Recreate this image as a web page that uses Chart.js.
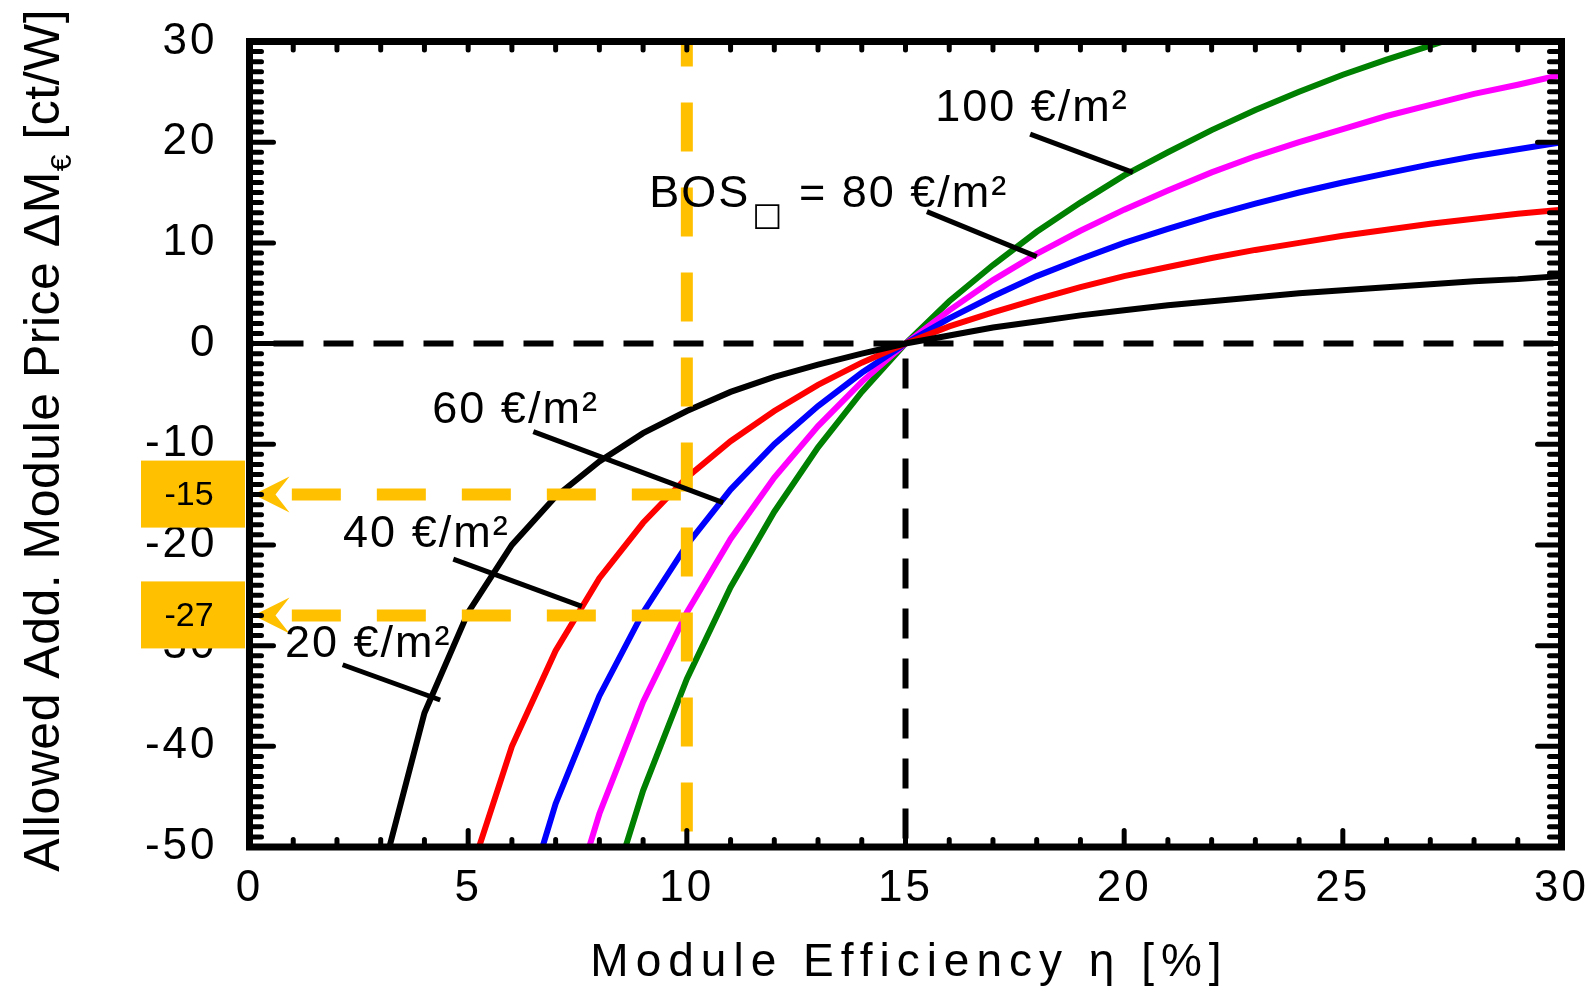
<!DOCTYPE html>
<html>
<head>
<meta charset="utf-8">
<title>Allowed module price vs efficiency</title>
<script src="https://cdn.jsdelivr.net/npm/chart.js@4.4.1/dist/chart.umd.min.js"></script>
<style>
  html, body { margin: 0; padding: 0; background: #fff; }
  #wrap { width: 1592px; height: 992px; position: relative; }
</style>
</head>
<body>
<div id="wrap"><canvas id="eff"></canvas></div>
<script>
// module efficiency [%]
let etaArr = [3,4,5,6,7,8,9,10,11,12,13,14,15,16,17,18,19,20,21,22,23,24,25,26,27,28,29,30];

// allowed additional module price [ct/W] for each BOS cost level
let bos20 = [-53.3,-36.7,-26.7,-20.0,-15.2,-11.7,-8.9,-6.7,-4.8,-3.3,-2.1,-1.0,0,0.8,1.6,2.2,2.8,3.3,3.8,4.2,4.6,5.0,5.3,5.6,5.9,6.2,6.4,6.7];
let bos40 = [null,null,-53.3,-40.0,-30.5,-23.3,-17.8,-13.3,-9.7,-6.7,-4.1,-1.9,0,1.7,3.1,4.4,5.6,6.7,7.6,8.5,9.3,10.0,10.7,11.3,11.9,12.4,12.9,13.3];
let bos60 = [null,null,null,-60.0,-45.7,-35.0,-26.7,-20.0,-14.5,-10.0,-6.2,-2.9,0,2.5,4.7,6.7,8.4,10.0,11.4,12.7,13.9,15.0,16.0,16.9,17.8,18.6,19.3,20.0];
let bos80 = [null,null,null,null,-60.9,-46.7,-35.6,-26.7,-19.4,-13.3,-8.2,-3.8,0,3.3,6.3,8.9,11.2,13.3,15.2,17.0,18.6,20.0,21.3,22.6,23.7,24.8,25.7,26.7];
let bos100 = [null,null,null,null,null,-58.3,-44.4,-33.3,-24.2,-16.7,-10.3,-4.8,0,4.2,7.8,11.1,14.0,16.7,19.0,21.2,23.2,25.0,26.7,28.2,29.6,31.0,null,null];

let seriesNames = ['20 €/m²','40 €/m²','60 €/m²','BOS□ = 80 €/m²','100 €/m²'];
let seriesColors = ['#000000','#ff0000','#0000ff','#ff00ff','#008000'];

let xTicks = [0,5,10,15,20,25,30];
let yTicks = [-50,-40,-30,-20,-10,0,10,20,30];

// reference efficiency and the two read-off prices at 10 %
let etaRef = 15;
let etaRead = 10;
let priceRead = [-15, -27];

const FONT = '"Liberation Sans", Arial, Helvetica, sans-serif';
const ORANGE = '#ffc000';

// where each BOS label sits and where its pointer line runs (axis units)
const notes = [
  { at: [0.81, -31.1], from: [2.13, -31.9], to: [4.36, -35.4] },
  { at: [2.14, -20.2], from: [4.66, -21.4], to: [7.60, -26.1] },
  { at: [4.18, -7.9],  from: [6.49, -8.75], to: [10.83, -15.8] },
  { at: [9.14, 13.6],  from: [15.49, 13.1], to: [18.0, 8.63] },
  { at: [15.68, 22.1], from: [17.85, 20.8], to: [20.2, 17.0] }
];

function pts(vals) {
  return etaArr.map((e, i) => ({ x: e, y: vals[i] }));
}

function spaced(ctx, s, x, y, font, sp, align, base) {
  ctx.font = font;
  ctx.letterSpacing = sp + 'px';
  ctx.textAlign = align || 'left';
  ctx.textBaseline = base || 'alphabetic';
  ctx.fillText(s, x, y);
}

// fixed axis boxes so the plot frame lands at the same place every time
function noPad(s) {
  s.paddingLeft = 0; s.paddingRight = 0; s.paddingTop = 0; s.paddingBottom = 0;
}

const extras = {
  id: 'extras',
  beforeDraw(chart) {
    chart.ctx.letterSpacing = '3px';
  },
  beforeDatasetsDraw(chart) {
    const { ctx, scales: { x, y } } = chart;
    ctx.save();
    ctx.strokeStyle = '#000';
    ctx.lineWidth = 6;
    ctx.setLineDash([30, 20]);
    // zero line
    ctx.lineDashOffset = 26;
    ctx.beginPath();
    ctx.moveTo(x.getPixelForValue(0), y.getPixelForValue(0));
    ctx.lineTo(x.getPixelForValue(30), y.getPixelForValue(0));
    ctx.stroke();
    // reference efficiency
    ctx.lineDashOffset = 35;
    ctx.beginPath();
    ctx.moveTo(x.getPixelForValue(etaRef), y.getPixelForValue(0));
    ctx.lineTo(x.getPixelForValue(etaRef), y.getPixelForValue(-50));
    ctx.stroke();
    ctx.restore();
  },
  afterDatasetsDraw(chart) {
    const { ctx, scales: { x, y }, chartArea: a } = chart;
    ctx.save();

    // read-off lines at 10 %
    const xr = x.getPixelForValue(etaRead);
    ctx.strokeStyle = ORANGE;
    ctx.lineWidth = 12;
    ctx.setLineDash([49, 36]);
    ctx.lineDashOffset = 24;
    ctx.beginPath();
    ctx.moveTo(xr, a.top);
    ctx.lineTo(xr, a.bottom);
    ctx.stroke();
    ctx.lineDashOffset = 0;
    priceRead.forEach(p => {
      const yp = y.getPixelForValue(p);
      ctx.beginPath();
      ctx.moveTo(xr - 6, yp);
      ctx.lineTo(a.left + 30, yp);
      ctx.stroke();
      ctx.fillStyle = ORANGE;
      ctx.beginPath();
      ctx.moveTo(a.left + 4, yp);
      ctx.lineTo(a.left + 40, yp - 18);
      ctx.lineTo(a.left + 26, yp);
      ctx.lineTo(a.left + 40, yp + 18);
      ctx.closePath();
      ctx.fill();
    });
    ctx.setLineDash([]);

    // BOS labels with pointer lines
    ctx.strokeStyle = '#000';
    ctx.fillStyle = '#000';
    ctx.lineWidth = 5;
    notes.forEach((n, i) => {
      ctx.beginPath();
      ctx.moveTo(x.getPixelForValue(n.from[0]), y.getPixelForValue(n.from[1]));
      ctx.lineTo(x.getPixelForValue(n.to[0]), y.getPixelForValue(n.to[1]));
      ctx.stroke();
      const tx = x.getPixelForValue(n.at[0]);
      const ty = y.getPixelForValue(n.at[1]);
      const parts = seriesNames[i].split('□');
      const f = '45px ' + FONT;
      spaced(ctx, parts[0], tx, ty, f, 2);
      if (parts.length > 1) {
        let w = ctx.measureText(parts[0]).width;
        spaced(ctx, '□', tx + w + 2, ty + 18, '32px "DejaVu Sans"', 0);
        let w2 = ctx.measureText('□').width;
        spaced(ctx, parts[1], tx + w + w2 + 4, ty, f, 2);
      }
    });

    // frame with inward ticks
    ctx.lineWidth = 5;
    ctx.lineCap = 'round';
    ctx.beginPath();
    for (let v = -49; v < 30; v++) {
      const yp = y.getPixelForValue(v);
      const len = v % 10 === 0 ? 24 : 12;
      ctx.moveTo(a.left, yp); ctx.lineTo(a.left + len, yp);
      ctx.moveTo(a.right, yp); ctx.lineTo(a.right - len, yp);
    }
    for (let v = 1; v < 30; v++) {
      const xp = x.getPixelForValue(v);
      const len = v % 5 === 0 ? 16.5 : 7.5;
      ctx.moveTo(xp, a.bottom); ctx.lineTo(xp, a.bottom - len);
      ctx.moveTo(xp, a.top); ctx.lineTo(xp, a.top + 8.5);
    }
    ctx.stroke();
    ctx.lineCap = 'butt';
    ctx.lineWidth = 7;
    ctx.strokeRect(a.left, a.top, a.right - a.left, a.bottom - a.top);

    // value boxes on the price axis
    priceRead.forEach(p => {
      const yp = y.getPixelForValue(p);
      ctx.fillStyle = ORANGE;
      ctx.fillRect(141, yp - 34, 104, 67);
      ctx.fillStyle = '#000';
      spaced(ctx, String(p), 189, yp + 1, '34px ' + FONT, 0, 'center', 'middle');
    });
    ctx.restore();
  },
  afterDraw(chart) {
    const { ctx, chartArea: a } = chart;
    ctx.save();
    ctx.fillStyle = '#000';
    // x title
    spaced(ctx, 'Module Efficiency η [%]', (a.left + a.right) / 2 + 4, 976, '46px ' + FONT, 7, 'center');
    // y title, rotated, with € subscript
    ctx.translate(59, (a.top + a.bottom) / 2 - 4);
    ctx.rotate(-Math.PI / 2);
    const big = '50px ' + FONT, small = '30px ' + FONT;
    const p1 = 'Allowed Add. Module Price ΔM', p2 = '€', p3 = ' [ct/W]';
    ctx.letterSpacing = '0.5px';
    ctx.font = big; const w1 = ctx.measureText(p1).width, w3 = ctx.measureText(p3).width;
    ctx.font = small; const w2 = ctx.measureText(p2).width;
    let sx = -(w1 + w2 + w3) / 2;
    spaced(ctx, p1, sx, 0, big, 0.5);
    spaced(ctx, p2, sx + w1, 12, small, 0.5);
    spaced(ctx, p3, sx + w1 + w2, 0, big, 0.5);
    ctx.restore();
  }
};

const ctx = document.getElementById('eff').getContext('2d');
const effChart = new Chart(ctx, {
  type: 'line',
  data: {
    datasets: [bos20, bos40, bos60, bos80, bos100].map((s, i) => ({
      label: seriesNames[i],
      data: pts(s),
      borderColor: seriesColors[i],
      borderWidth: 6,
      pointRadius: 0,
      tension: 0,
      fill: false
    }))
  },
  options: {
    responsive: true,
    maintainAspectRatio: false,
    animation: false,
    layout: { padding: { top: 41.5, right: 30.5, left: 0, bottom: 0 } },
    plugins: {
      legend: { display: false },
      tooltip: { enabled: false }
    },
    scales: {
      x: {
        type: 'linear',
        min: 0,
        max: 30,
        afterBuildTicks: s => { s.ticks = xTicks.map(v => ({ value: v })); },
        afterFit: s => { s.height = 145; noPad(s); },
        grid: { display: false },
        border: { display: false },
        ticks: { color: '#000', padding: 7, maxRotation: 0, font: { family: FONT, size: 44 } }
      },
      y: {
        min: -50,
        max: 30,
        afterBuildTicks: s => { s.ticks = yTicks.map(v => ({ value: v })); },
        afterFit: s => { s.width = 249.5; noPad(s); },
        grid: { display: false },
        border: { display: false },
        ticks: { color: '#000', padding: 24, font: { family: FONT, size: 44 } }
      }
    }
  },
  plugins: [extras]
});
</script>
</body>
</html>
